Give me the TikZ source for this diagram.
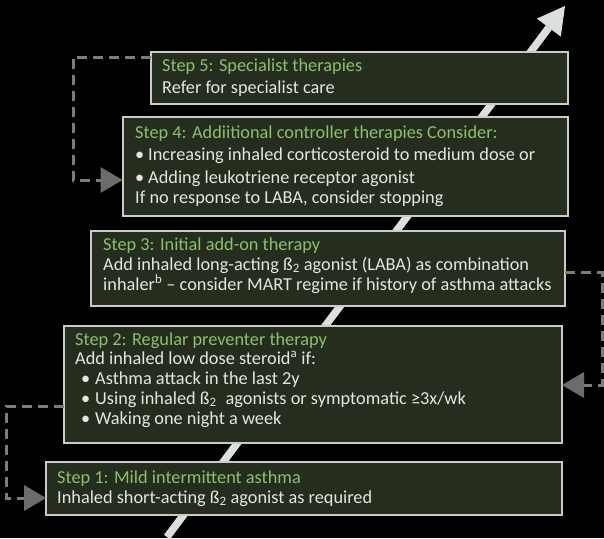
\documentclass[tikz,border=0pt]{standalone}
\usepackage{fontspec}
\setmainfont{Carlito}
\usetikzlibrary{arrows.meta,calc}
\definecolor{boxfill}{HTML}{252E1E}
\definecolor{boxline}{HTML}{C8CCC6}
\definecolor{ttlc}{HTML}{8DC06C}
\definecolor{txtc}{HTML}{E4E6E2}
\definecolor{dashc}{HTML}{7C7C7C}
\definecolor{headc}{HTML}{6C6C6C}
\definecolor{shaftc}{HTML}{DCE0DD}
\newcommand{\fsz}{\fontsize{18.3}{22}\selectfont}
\begin{document}
\begin{tikzpicture}[x=1pt,y=-1pt,
  stepbox/.style={draw=boxline, line width=2pt, fill=boxfill, inner sep=0pt, outer sep=0pt, anchor=north west},
  ttl/.style={inner sep=0pt, anchor=base west, text=ttlc, font=\fsz},
  txt/.style={inner sep=0pt, anchor=base west, text=txtc, font=\fsz},
  loopback/.style={draw=dashc, line width=3pt, dash pattern=on 10pt off 6pt,
    -{Triangle[length=22pt,width=26pt,line width=0pt,color=headc,fill=headc]}},
  bigarrow/.style={draw=shaftc, line width=7.5pt,
    -{Triangle[length=27pt,width=30pt,line width=0pt,color=shaftc,fill=shaftc]}}]
\fill[black] (0,0) rectangle (604,538);
\useasboundingbox (0,0) rectangle (604,538);
\clip (0,0) rectangle (604,538);
% rising arrow
\coordinate (s0) at (167,537);
\coordinate (s1) at (565,6);
\draw[bigarrow] (s0) -- (s1);
% boxes
\node[stepbox, minimum width=417, minimum height=52] (b5) at (151,52) {};
\node[stepbox, minimum width=445.5, minimum height=99] (b4) at (122.5,117) {};
\node[stepbox, minimum width=474, minimum height=75] (b3) at (91,231) {};
\node[stepbox, minimum width=498.5, minimum height=117] (b2) at (63.5,326) {};
\node[stepbox, minimum width=516, minimum height=53] (b1) at (46,462) {};
% loop-back connectors
\coordinate (k1) at (73,180);
\coordinate (k2) at (602,385);
\coordinate (k3) at (6,498);
\draw[loopback] (b5.west |- 0,57) -| (k1) -- (b4.west |- 0,180);
\draw[loopback] (b3.east |- 0,272) -| (k2) -- (b2.east |- 0,385);
\draw[loopback] (b2.west |- 0,406) -| (k3) -- (b1.west |- 0,498);
% texts
\node[ttl] (t5a) at (162,71) {Step 5: Specialist therapies};
\node[txt] (t5b) at (162,93) {Refer for specialist care};
\node[ttl] (t4a) at (135,138) {Step 4: Addiitional controller therapies Consider:};
\node[txt] (t4b) at (135,160) {\makebox[13pt][l]{•}Increasing inhaled corticosteroid to medium dose or};
\node[txt] (t4c) at (135,183) {\makebox[13pt][l]{•}Adding leukotriene receptor agonist};
\node[txt] (t4d) at (135,203) {If no response to LABA, consider stopping};
\node[ttl] (t3a) at (103,250) {Step 3: Initial add-on therapy};
\node[txt] (t3b) at (103,270) {Add inhaled long-acting ß\textsubscript{2} agonist (LABA) as combination};
\node[txt] (t3c) at (103,290) {inhaler\textsuperscript{b} – consider MART regime if history of asthma attacks};
\node[ttl] (t2a) at (75,345) {Step 2: Regular preventer therapy};
\node[txt] (t2b) at (75,364) {Add inhaled low dose steroid\textsuperscript{a} if:};
\node[txt] (t2c) at (75,384) {\hspace*{6pt}\makebox[14pt][l]{•}Asthma attack in the last 2y};
\node[txt] (t2d) at (75,404) {\hspace*{6pt}\makebox[14pt][l]{•}Using inhaled ß\textsubscript{2}\hspace{5pt} agonists or symptomatic ≥3x/wk};
\node[txt] (t2e) at (75,424) {\hspace*{6pt}\makebox[14pt][l]{•}Waking one night a week};
\node[ttl] (t1a) at (57,483) {Step 1: Mild intermittent asthma};
\node[txt] (t1b) at (57,503) {Inhaled short-acting ß\textsubscript{2} agonist as required};
\end{tikzpicture}
\end{document}
